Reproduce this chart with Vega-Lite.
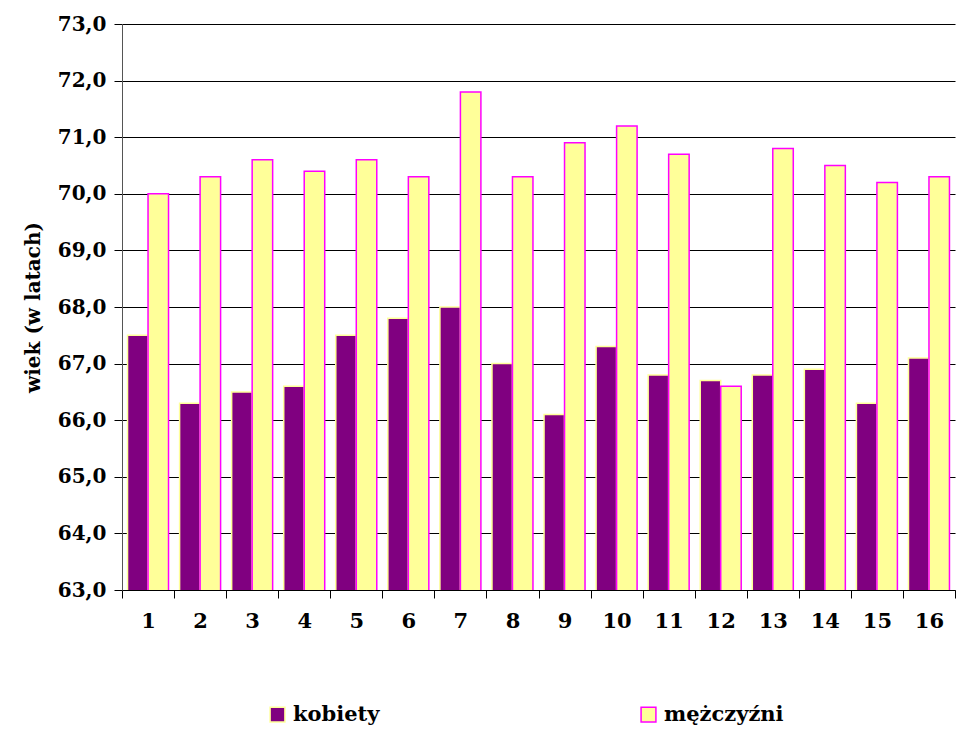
{
  "$schema": "https://vega.github.io/schema/vega-lite/v6.json",
  "width": 833,
  "height": 566,
  "autosize": "none",
  "padding": {"left": 122, "top": 24, "right": 1, "bottom": 145},
  "background": "white",
  "config": {
    "view": {"stroke": null},
    "axis": {"labelFont": "DejaVu Serif", "titleFont": "DejaVu Serif"},
    "legend": {"labelFont": "DejaVu Serif", "titleFont": "DejaVu Serif"}
  },
  "data": {
    "values": [
      {"nr": 1, "plec": "kobiety", "wiek": 67.5}, {"nr": 1, "plec": "mężczyźni", "wiek": 70.0},
      {"nr": 2, "plec": "kobiety", "wiek": 66.3}, {"nr": 2, "plec": "mężczyźni", "wiek": 70.3},
      {"nr": 3, "plec": "kobiety", "wiek": 66.5}, {"nr": 3, "plec": "mężczyźni", "wiek": 70.6},
      {"nr": 4, "plec": "kobiety", "wiek": 66.6}, {"nr": 4, "plec": "mężczyźni", "wiek": 70.4},
      {"nr": 5, "plec": "kobiety", "wiek": 67.5}, {"nr": 5, "plec": "mężczyźni", "wiek": 70.6},
      {"nr": 6, "plec": "kobiety", "wiek": 67.8}, {"nr": 6, "plec": "mężczyźni", "wiek": 70.3},
      {"nr": 7, "plec": "kobiety", "wiek": 68.0}, {"nr": 7, "plec": "mężczyźni", "wiek": 71.8},
      {"nr": 8, "plec": "kobiety", "wiek": 67.0}, {"nr": 8, "plec": "mężczyźni", "wiek": 70.3},
      {"nr": 9, "plec": "kobiety", "wiek": 66.1}, {"nr": 9, "plec": "mężczyźni", "wiek": 70.9},
      {"nr": 10, "plec": "kobiety", "wiek": 67.3}, {"nr": 10, "plec": "mężczyźni", "wiek": 71.2},
      {"nr": 11, "plec": "kobiety", "wiek": 66.8}, {"nr": 11, "plec": "mężczyźni", "wiek": 70.7},
      {"nr": 12, "plec": "kobiety", "wiek": 66.7}, {"nr": 12, "plec": "mężczyźni", "wiek": 66.6},
      {"nr": 13, "plec": "kobiety", "wiek": 66.8}, {"nr": 13, "plec": "mężczyźni", "wiek": 70.8},
      {"nr": 14, "plec": "kobiety", "wiek": 66.9}, {"nr": 14, "plec": "mężczyźni", "wiek": 70.5},
      {"nr": 15, "plec": "kobiety", "wiek": 66.3}, {"nr": 15, "plec": "mężczyźni", "wiek": 70.2},
      {"nr": 16, "plec": "kobiety", "wiek": 67.1}, {"nr": 16, "plec": "mężczyźni", "wiek": 70.3}
    ]
  },
  "mark": {"type": "bar", "strokeWidth": 1.5, "clip": true},
  "encoding": {
    "x": {
      "field": "nr",
      "type": "ordinal",
      "scale": {"paddingInner": 0, "paddingOuter": 0},
      "axis": {
        "title": null,
        "labelAngle": 0,
        "labelFont": "DejaVu Serif",
        "labelFontSize": 21,
        "labelFontWeight": "bold",
        "labelColor": "black",
        "labelPadding": 12,
        "tickBand": "extent",
        "tickSize": 8,
        "tickColor": "black",
        "domainColor": "black",
        "grid": false
      }
    },
    "xOffset": {
      "field": "plec",
      "type": "nominal",
      "sort": ["kobiety", "mężczyźni"],
      "scale": {"paddingInner": 0, "paddingOuter": 0.27}
    },
    "y": {
      "field": "wiek",
      "type": "quantitative",
      "scale": {"domain": [63, 73], "zero": false, "nice": false},
      "axis": {
        "title": "wiek (w latach)",
        "titleFont": "DejaVu Serif",
        "titleFontSize": 20,
        "titleFontWeight": "bold",
        "titleColor": "black",
        "titlePadding": 14,
        "values": [63, 64, 65, 66, 67, 68, 69, 70, 71, 72, 73],
        "labelExpr": "replace(format(datum.value, '.1f'), '.', ',')",
        "labelFont": "DejaVu Serif",
        "labelFontSize": 20,
        "labelFontWeight": "bold",
        "labelColor": "black",
        "labelPadding": 8,
        "tickSize": 8,
        "tickColor": "black",
        "domainColor": "#555555",
        "grid": true,
        "gridColor": "black",
        "gridOpacity": 1,
        "gridWidth": 1
      }
    },
    "fill": {
      "field": "plec",
      "type": "nominal",
      "sort": ["kobiety", "mężczyźni"],
      "scale": {"domain": ["kobiety", "mężczyźni"], "range": ["#800080", "#FFFF99"]},
      "legend": {
        "title": null,
        "orient": "none",
        "direction": "horizontal",
        "legendX": 145,
        "legendY": 680,
        "columnPadding": 258,
        "symbolType": "square",
        "symbolSize": 220,
        "symbolStrokeWidth": 1.5,
        "symbolOffset": 0,
        "labelFont": "DejaVu Serif",
        "labelFontSize": 21,
        "labelFontWeight": "bold",
        "labelColor": "black",
        "labelOffset": 5
      }
    },
    "stroke": {
      "field": "plec",
      "type": "nominal",
      "sort": ["kobiety", "mężczyźni"],
      "scale": {"domain": ["kobiety", "mężczyźni"], "range": ["#FFFF99", "#FF00FF"]},
      "legend": null
    }
  }
}
